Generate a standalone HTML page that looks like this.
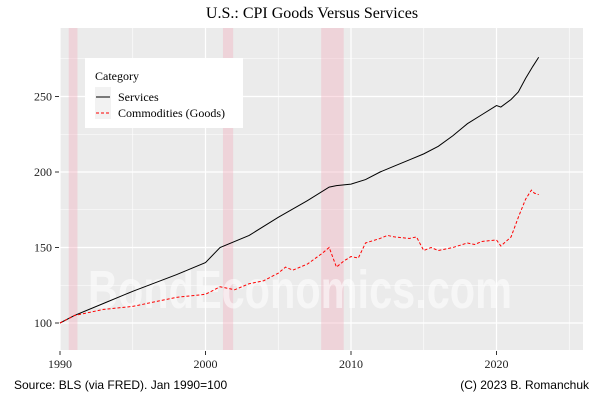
<!DOCTYPE html>
<html><head><meta charset="utf-8"><style>
body{margin:0;background:#fff;}
svg{display:block;}
</style></head><body>
<svg id="chart" width="600" height="400" xmlns="http://www.w3.org/2000/svg">
<rect width="600" height="400" fill="#fff"/>
<text x="312" y="18" text-anchor="middle" font-family="Liberation Serif, serif" font-size="16">U.S.: CPI Goods Versus Services</text>
<rect x="60" y="28" width="523" height="322" fill="#ebebeb"/>
<g id="grid"></g>
<g id="rec"></g>
<text x="88" y="308" textLength="424" lengthAdjust="spacingAndGlyphs" font-family="Liberation Sans, sans-serif" font-weight="bold" font-size="54" fill="#fff" fill-opacity="0.55">BondEconomics.com</text>
<g id="series"></g>
<g id="axes"></g>
<g>
<rect x="85" y="58" width="158" height="70" fill="#fff"/>
<text x="95" y="80" font-family="Liberation Serif, serif" font-size="12">Category</text>
<rect x="95" y="87" width="16" height="32" fill="#f2f2f2"/>
<line x1="96" y1="97" x2="110" y2="97" stroke="#000"/>
<line x1="96" y1="113" x2="110" y2="113" stroke="#f00" stroke-dasharray="3,2"/>
<text x="118" y="101" font-family="Liberation Serif, serif" font-size="12">Services</text>
<text x="118" y="117" font-family="Liberation Serif, serif" font-size="12">Commodities (Goods)</text>
</g>
<text x="14" y="389" font-family="Liberation Sans, sans-serif" font-size="12">Source: BLS (via FRED). Jan 1990=100</text>
<text x="589" y="389" text-anchor="end" font-family="Liberation Sans, sans-serif" font-size="12">(C) 2023 B. Romanchuk</text>
</svg>
<script>
const xTicks=[1990,2000,2010,2020];
const xMinor=[1995,2005,2015,2025];
const yTicks=[100,150,200,250];
const yMinor=[125,175,225,275];
const recStart=[1990.6,2001.2,2007.95];
const recEnd=[1991.2,2001.9,2009.5];
const svcYears=[1990,1991,1993,1995,1998,2000,2001,2003,2005,2007,2008.5,2009,2010,2011,2012,2013,2014,2015,2016,2017,2018,2019,2020,2020.3,2021,2021.5,2022,2022.5,2022.9];
const svcVals=[100,105,113,121,132,140,150,158,170,181,190,191,192,195,200,204,208,212,217,224,232,238,244,243,248,253,262,270,276];
const gdsYears=[1990,1990.8,1991,1993,1995,1998,2000,2001,2002,2003,2004,2005,2005.5,2006,2007,2008,2008.5,2009,2009.5,2010,2010.5,2011,2012,2012.5,2013,2014,2014.5,2015,2015.5,2016,2017,2018,2018.5,2019,2020,2020.3,2021,2021.5,2022,2022.4,2022.6,2022.9];
const gdsVals=[100,104,105,109,111,117,119,124,122,126,128,133,137,135,139,146,150,137,141,144,143,153,156,158,157,156,157,148,150,148,150,153,152,154,155,151,157,170,182,188,186,185];
const NS='http://www.w3.org/2000/svg';
const X=v=>60+(v-1990)*14.55;
const Y=v=>323-(v-100)*1.51;
function mk(p,t,a){const e=document.createElementNS(NS,t);for(const k in a)e.setAttribute(k,a[k]);p.appendChild(e);return e;}
const grid=document.getElementById('grid'),axes=document.getElementById('axes'),rec=document.getElementById('rec'),ser=document.getElementById('series');
yMinor.forEach(v=>{const l=mk(grid,'line',{x1:60,x2:583,y1:Y(v),y2:Y(v),stroke:'#fff','stroke-width':0.6});

});
xMinor.forEach(v=>{const l=mk(grid,'line',{x1:X(v),x2:X(v),y1:28,y2:350,stroke:'#fff','stroke-width':0.6});

});
yTicks.forEach(v=>{const l=mk(grid,'line',{x1:60,x2:583,y1:Y(v),y2:Y(v),stroke:'#fff','stroke-width':1.2});


mk(axes,'line',{x1:55,x2:59,y1:Y(v),y2:Y(v),stroke:'#333'});
const t=mk(axes,'text',{x:52,y:Y(v)+4,'text-anchor':'end','font-family':'Liberation Serif, serif','font-size':12,fill:'#222'});t.textContent=v;

});
xTicks.forEach(v=>{const l=mk(grid,'line',{x1:X(v),x2:X(v),y1:28,y2:350,stroke:'#fff','stroke-width':1.2});


mk(axes,'line',{x1:X(v),x2:X(v),y1:351,y2:355,stroke:'#333'});
const t=mk(axes,'text',{x:X(v),y:368,'text-anchor':'middle','font-family':'Liberation Serif, serif','font-size':12,fill:'#222'});t.textContent=v;

});
recStart.forEach((s,i)=>{const r=mk(rec,'rect',{x:X(s),y:28,width:X(recEnd[i])-X(s),height:322,fill:'#f4a6b8','fill-opacity':0.35});

});
const p1=mk(ser,'polyline',{points:svcYears.map((y,i)=>X(y)+','+Y(svcVals[i])).join(' '),fill:'none',stroke:'#000','stroke-width':1});


const p2=mk(ser,'polyline',{points:gdsYears.map((y,i)=>X(y)+','+Y(gdsVals[i])).join(' '),fill:'none',stroke:'#f00','stroke-width':1,'stroke-dasharray':'3,2'});


</script>
</body></html>
